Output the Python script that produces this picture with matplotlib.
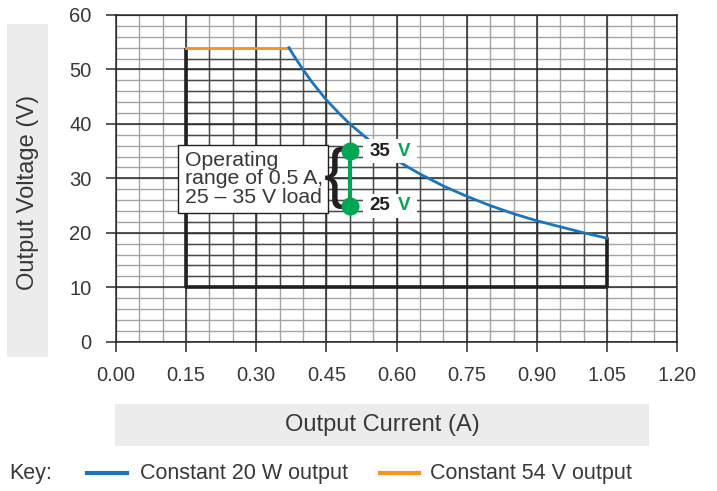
import matplotlib.pyplot as plt
from matplotlib.patches import Polygon, Rectangle
import numpy as np

plt.rcParams['font.family'] = ['Liberation Sans', 'DejaVu Sans']

# constant 20 W output
power_current = [0.37, 0.38, 0.40, 0.42, 0.45, 0.48, 0.50, 0.55, 0.60, 0.65, 0.70,
                 0.75, 0.80, 0.85, 0.90, 0.95, 1.00, 1.05]
power_voltage = [54.0, 52.6, 50.0, 47.6, 44.4, 41.7, 40.0, 36.4, 33.3, 30.8, 28.6,
                 26.7, 25.0, 23.5, 22.2, 21.1, 20.0, 19.0]

# constant 54 V output
cv_current = [0.15, 0.37]
cv_voltage = [54.0, 54.0]

# operating range marker
op_current = 0.5
op_voltage = [25, 35]

floor_voltage = 10
x_ticks = [0.00, 0.15, 0.30, 0.45, 0.60, 0.75, 0.90, 1.05, 1.20]
y_ticks = [0, 10, 20, 30, 40, 50, 60]

text_col = '#383838'
blue = '#1a75c0'
orange = '#f7941d'
green = '#00a651'

fig = plt.figure(figsize=(7.17, 4.91), dpi=100)
ax = fig.add_axes([0.1614, 0.3041, 0.7833, 0.6654])
ax.set_xlim(0, 1.2)
ax.set_ylim(0, 60)

minor_x = np.arange(0, 1.2001, 0.05)
minor_y = np.arange(0, 60.001, 2)

# light grid everywhere
ax.vlines(minor_x, 0, 60, color='#a4a4a4', lw=1, zorder=1)
ax.hlines(minor_y, 0, 1.2, color='#a4a4a4', lw=1, zorder=1)

# darker grid inside the operating area
region = [(0.15, floor_voltage)] + [(cv_current[0], cv_voltage[0])] + \
    list(zip(power_current, power_voltage)) + [(power_current[-1], floor_voltage)]
clip = Polygon(region, closed=True, facecolor='none', edgecolor='none')
ax.add_patch(clip)
vl = ax.vlines(minor_x, 0, 60, color='#4a4a4a', lw=1, zorder=1.5)
hl = ax.hlines(minor_y, 0, 1.2, color='#4a4a4a', lw=1, zorder=1.5)
vl.set_clip_path(clip)
hl.set_clip_path(clip)

# major grid
ax.vlines(x_ticks, 0, 60, color='#2a2a2a', lw=1.1, zorder=2)
ax.hlines(y_ticks, 0, 1.2, color='#2a2a2a', lw=1.1, zorder=2)

# operating area outline
ax.plot([0.15, 0.15, power_current[-1], power_current[-1]],
        [cv_voltage[0], floor_voltage, floor_voltage, power_voltage[-1]],
        color='#231f20', lw=2.6, zorder=3, solid_capstyle='butt')
ax.plot(cv_current, cv_voltage, color=orange, lw=2, zorder=4)
ax.plot(power_current, power_voltage, color=blue, lw=2, zorder=4)

for s in ax.spines.values():
    s.set_color('#2a2a2a')
    s.set_linewidth(1.1)

ax.set_xticks(x_ticks)
ax.set_yticks(y_ticks)
ax.set_xticklabels([f'{v:.2f}' for v in x_ticks])
ax.tick_params(length=7.5, width=1.1, color='#2a2a2a', labelsize=14.5,
               labelcolor=text_col, pad=10)

# annotation box
ax.add_patch(Rectangle((0.1325, 23.6), 0.321, 12.5, fc='white', ec='#231f20',
                       lw=1, zorder=5))
ax.text(0.147, 29.9, 'Operating\nrange of 0.5 A,\n25 \u2013 35 V load', ha='left',
        va='center', fontsize=15.3, color=text_col, linespacing=0.95, zorder=6)
ax.text(0.468, 30, '{', ha='center', va='center', fontsize=48, color='#231f20',
        zorder=6)

ax.plot([op_current, op_current], op_voltage, color=green, lw=3, zorder=7,
        marker='o', markersize=13, markeredgewidth=0, solid_capstyle='butt')

for v in op_voltage:
    ax.add_patch(Rectangle((0.528, v - 2.2), 0.116, 4.4, fc='white', ec='none',
                           zorder=5))
    ax.annotate(f'{v}', (op_current, v), xytext=(14, 0), textcoords='offset points',
                ha='left', va='center', fontsize=13.5, fontweight='bold', color='#231f20',
                zorder=6)
    ax.annotate('V', (op_current, v), xytext=(35, 0), textcoords='offset points',
                ha='left', va='center', fontsize=13.5, fontweight='bold', color=green,
                zorder=6)

# axis label boxes
fig.patches.append(Rectangle((7 / 717, 1 - 357 / 491), 41 / 717, 333 / 491,
                             transform=fig.transFigure, fc='#ececec', ec='none'))
fig.text(28 / 717, 1 - 192 / 491, 'Output Voltage (V)', rotation=90, ha='center',
         va='center', fontsize=17, color=text_col)
fig.patches.append(Rectangle((115 / 717, 1 - 446 / 491), 534 / 717, 42 / 491,
                             transform=fig.transFigure, fc='#ececec', ec='none'))
fig.text(382 / 717, 1 - 425 / 491, 'Output Current (A)', ha='center', va='center',
         fontsize=17, color=text_col)

# key
ky = 1 - 473 / 491
fig.text(9 / 717, ky, 'Key:', ha='left', va='center', fontsize=15.5, color=text_col)
fig.add_artist(plt.Line2D([87 / 717, 127 / 717], [ky, ky], color=blue, lw=3))
fig.text(140 / 717, ky, 'Constant 20 W output', ha='left', va='center', fontsize=15.5,
         color=text_col)
fig.add_artist(plt.Line2D([380 / 717, 419 / 717], [ky, ky], color=orange, lw=3))
fig.text(430 / 717, ky, 'Constant 54 V output', ha='left', va='center', fontsize=15.5,
         color=text_col)

fig.savefig('out.png', dpi=100)
